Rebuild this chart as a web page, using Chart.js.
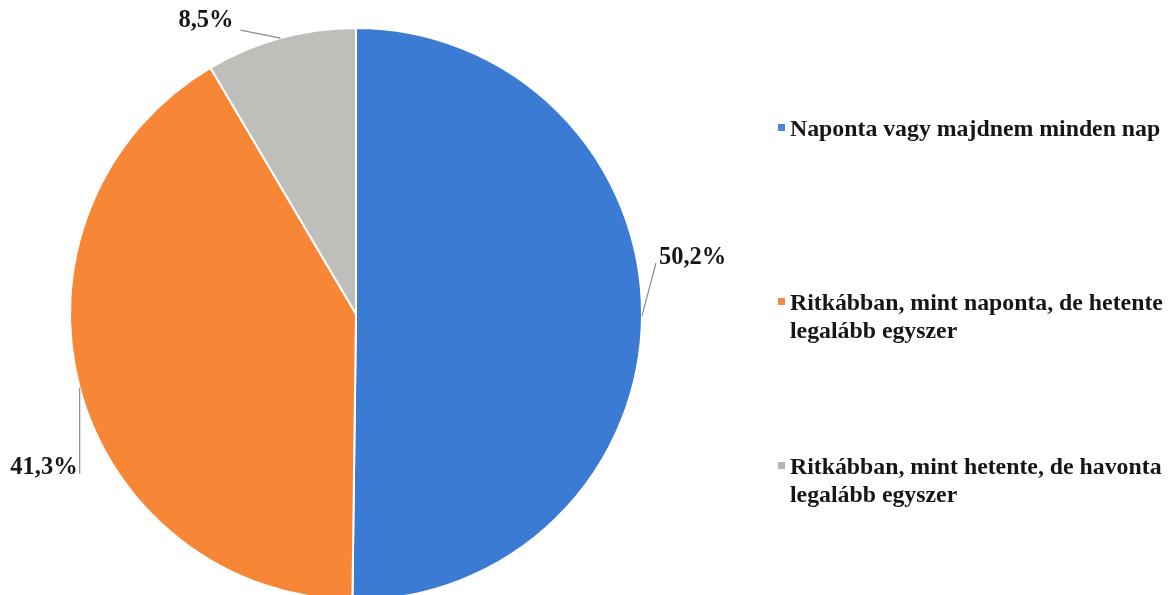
<!DOCTYPE html>
<html>
<head>
<meta charset="utf-8">
<script src="https://cdn.jsdelivr.net/npm/chart.js@4/dist/chart.umd.min.js"></script>
<style>
  html, body { margin: 0; padding: 0; background: #ffffff; overflow: hidden; }
  #wrap { position: relative; width: 1171px; height: 595px; overflow: hidden; }
  #pie { position: absolute; left: 0; top: 0; }
  .legend-item { position: absolute; left: 790px; width: 400px;
    font-family: "Liberation Serif", "Times New Roman", serif; font-weight: bold;
    font-size: 23.8px; line-height: 28px; color: #161616; }
  .legend-item .mark { position: absolute; left: -12px; top: 10px; width: 7px; height: 7px; }
</style>
</head>
<body>
<div id="wrap">
  <canvas id="pie" width="1171" height="640"></canvas>
  <div id="legend"></div>
</div>
<script>
// Share of respondents by frequency
const categories = [
  'Naponta vagy majdnem minden nap',
  'Ritkábban, mint naponta, de hetente legalább egyszer',
  'Ritkábban, mint hetente, de havonta legalább egyszer'
];
const shares = [50.2, 41.3, 8.5];
const sliceColors = ['#3c7bd3', '#f78637', '#bebfbb'];
const legendColors = ['#4a86d6', '#f08a40', '#b5b6b2'];

// Where each value label sits relative to the point on the rim at the slice's middle
const labelLayout = [
  { line: [14, -53], text: [17, -58], align: 'left' },
  { line: [0, 86], text: [-2, 80], align: 'right' },
  { line: [-40, -8], text: [-47, -17], align: 'right' }
];

const fmt = v => v.toFixed(1).replace('.', ',') + '%';

const valueLabels = {
  id: 'valueLabels',
  afterDatasetsDraw(chart) {
    const ctx = chart.ctx;
    const meta = chart.getDatasetMeta(0);
    ctx.save();
    meta.data.forEach((arc, i) => {
      const p = arc.getProps(['x', 'y', 'startAngle', 'endAngle', 'outerRadius'], true);
      const mid = (p.startAngle + p.endAngle) / 2;
      const ax = p.x + Math.cos(mid) * p.outerRadius;
      const ay = p.y + Math.sin(mid) * p.outerRadius;
      const cfg = labelLayout[i];
      ctx.strokeStyle = '#8a8a8a';
      ctx.lineWidth = 1.2;
      ctx.beginPath();
      ctx.moveTo(ax, ay);
      ctx.lineTo(ax + cfg.line[0], ay + cfg.line[1]);
      ctx.stroke();
      ctx.fillStyle = '#161616';
      ctx.font = 'bold 24.5px "Liberation Serif", "Times New Roman", serif';
      ctx.textAlign = cfg.align;
      ctx.textBaseline = 'middle';
      ctx.fillText(fmt(shares[i]), ax + cfg.text[0], ay + cfg.text[1]);
    });
    ctx.restore();
  }
};

new Chart(document.getElementById('pie'), {
  type: 'pie',
  data: {
    labels: categories,
    datasets: [{
      data: shares,
      backgroundColor: sliceColors,
      borderColor: '#ffffff',
      borderWidth: 2
    }]
  },
  options: {
    responsive: false,
    animation: false,
    layout: { padding: { left: 69, right: 528, top: 27, bottom: 39 } },
    plugins: {
      legend: { display: false },
      tooltip: { enabled: false }
    }
  },
  plugins: [valueLabels]
});

// Legend entries on the right
const legendTops = [114, 288, 452];
const legend = document.getElementById('legend');
categories.forEach((name, i) => {
  const item = document.createElement('div');
  item.className = 'legend-item';
  item.style.top = legendTops[i] + 'px';
  const mark = document.createElement('span');
  mark.className = 'mark';
  mark.style.background = legendColors[i];
  item.appendChild(mark);
  item.appendChild(document.createTextNode(name));
  legend.appendChild(item);
});
</script>
</body>
</html>
